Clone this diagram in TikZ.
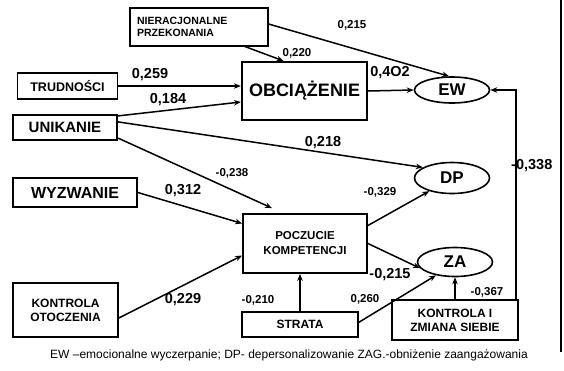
\documentclass[tikz,border=0pt]{standalone}
\usepackage{fontspec}
\setmainfont{Liberation Sans}
\usetikzlibrary{arrows.meta}
\usetikzlibrary{shapes.geometric}

\begin{document}
\begin{tikzpicture}[x=1pt,y=-1pt,
  box/.style={draw,line width=1.8pt,inner sep=0pt,align=center,
    font=\fontsize{12}{14}\selectfont\bfseries},
  thinbox/.style={box,line width=1.1pt},
  oval/.style={draw,ellipse,line width=1.6pt,inner sep=0pt,
    minimum width=75pt,font=\fontsize{17}{17}\selectfont\bfseries},
  link/.style={line width=1.5pt,-{Stealth[length=7pt,width=5.5pt]}},
  num/.style={inner sep=0pt,font=\fontsize{14.5}{14}\selectfont\bfseries},
  smallnum/.style={inner sep=0pt,font=\fontsize{11.5}{12}\selectfont\bfseries}]

\useasboundingbox (0,0) rectangle (564,370);

% page edge
\draw[line width=1.2pt] (561,0) -- (561,352);

% left side
\node[thinbox,text width=124pt,inner xsep=7pt,minimum height=38pt,align=left,
  font=\fontsize{10.5}{12.5}\selectfont\bfseries] (nier) at (199,27)
  {NIERACJONALNE\\PRZEKONANIA};
\node[box,line width=1.4pt,minimum width=100pt,minimum height=26pt,
  font=\fontsize{12.5}{14}\selectfont\bfseries] (trud) at (67.5,86) {TRUDNOŚCI};
\node[box,line width=2.2pt,minimum width=104pt,minimum height=25pt,
  font=\fontsize{15}{15}\selectfont\bfseries] (unik) at (65,127.5) {UNIKANIE};
\node[box,minimum width=124pt,minimum height=29pt,
  font=\fontsize{16}{16}\selectfont\bfseries] (wyz) at (75,192.5) {WYZWANIE};
\node[box,minimum width=105pt,minimum height=54pt] (kot) at (65.5,310) {KONTROLA\\OTOCZENIA};

% middle
\node[box,line width=2.2pt,minimum width=125pt,minimum height=58pt,
  font=\fontsize{18}{18}\selectfont\bfseries] (obc) at (304.5,91) {OBCIĄŻENIE};
\node[box,minimum width=124pt,minimum height=59pt,
  font=\fontsize{11.5}{15}\selectfont\bfseries] (pocz) at (305,243.5) {POCZUCIE\\KOMPETENCJI};
\node[thinbox,minimum width=116pt,minimum height=25pt] (strata) at (300,324.5) {STRATA};
\node[box,minimum width=126pt,minimum height=40pt] (kzs) at (455,320) {KONTROLA I\\ZMIANA SIEBIE};

% outcomes
\node[oval,minimum height=26pt] (ew) at (452,90) {EW};
\node[oval,minimum height=31pt] (dp) at (452,178) {DP};
\node[oval,minimum height=29pt] (za) at (455,262) {ZA};

% paths
\draw[link] ([xshift=46pt]nier.south) -- ([xshift=-21pt]obc.north);
\draw[link] ([yshift=3pt]nier.east) -- ([xshift=-3pt]ew.north);
\draw[link] (trud.east) -- (trud.east -| obc.west);
\draw[link] ([yshift=-2pt]unik.north east) -- ([yshift=-11pt]obc.west);
\draw[link] ([yshift=-8pt]unik.north east) -- (dp.160);
\draw[link] ([yshift=3pt]unik.south east) -- ([xshift=-33pt,yshift=5pt]pocz.north);
\draw[link] (wyz.east) -- ([yshift=20pt]pocz.west);
\draw[link] ([yshift=-8pt]kot.east) -- ([yshift=-12pt]pocz.west);
\draw[link] (obc.east) -- (ew.west);
\draw[link] ([yshift=18pt]pocz.east) -- (dp.210);
\draw[link] (pocz.east) -- (za.190);
\draw[link] (strata.north) -- (strata.north |- pocz.south);
\draw[link] ([yshift=2pt]strata.east) -- (za.215);
\draw[link] (kzs.north) -- (za.south);
\draw[link] ([xshift=-3pt]kzs.north east) |- (ew.east);

% coefficients
\node[smallnum] (c1) at (352,25) {0,215};
\node[smallnum] (c2) at (297,53) {0,220};
\node[num] (c3) at (150,75) {0,259};
\node[num] (c4) at (168,100) {0,184};
\node[num] (c5) at (390,73) {0,4O2};
\node[num] (c6) at (323,143) {0,218};
\node[smallnum] (c7) at (232,173) {-0,238};
\node[num] (c8) at (183,191) {0,312};
\node[smallnum] (c9) at (380,192) {-0,329};
\node[num,anchor=west] (c10) at (511,166) {-0,338};
\node[num] (c11) at (390,275) {-0,215};
\node[num] (c12) at (183,300) {0,229};
\node[smallnum] (c13) at (258,300) {-0,210};
\node[smallnum] (c14) at (365,299) {0,260};
\node[smallnum] (c15) at (487,292) {-0,367};

% legend
\node[inner sep=0pt,font=\fontsize{12}{13}\selectfont] (leg) at (289,355)
  {EW –emocionalne wyczerpanie; DP- depersonalizowanie ZAG.-obniżenie zaangażowania};

\end{tikzpicture}
\end{document}
